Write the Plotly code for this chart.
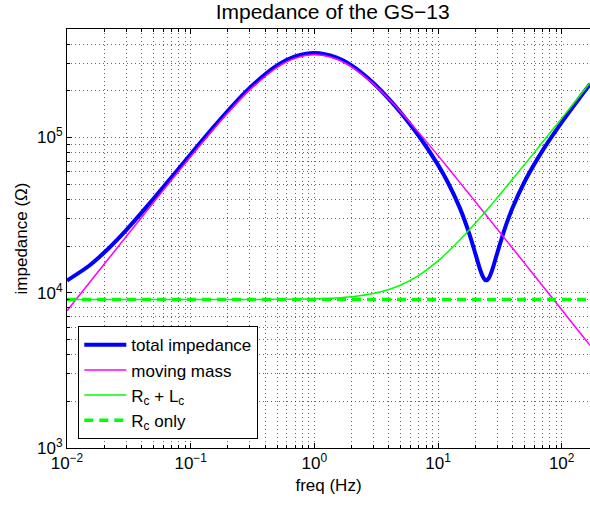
import plotly.graph_objects as go

# Frequencies (Hz) sampled along the curves
freq = [0.01, 0.015, 0.02, 0.03, 0.05, 0.07, 0.1, 0.15, 0.2, 0.3, 0.5, 0.7, 1, 1.5, 2, 3, 4, 5, 7,
        10, 12, 15, 18, 20, 22, 23, 24, 24.5, 25, 26, 27, 28, 30, 35, 40, 50, 70, 100, 140, 170]

# |Z| total impedance (ohm)
total_imp = [11994, 14875, 18153, 25263, 40244, 55441, 78067, 114537, 148751, 208564, 291089, 332841,
             350057, 328539, 291406, 224767, 177633, 144580, 102226, 66634, 51491, 35217, 23667, 17963,
             13961, 12736, 12109, 12023, 12084, 12597, 13535, 14779, 17810, 26453, 35160, 51707, 82256,
             125152, 180290, 221000]

# |Z| moving mass (ohm)
moving_mass = [7658, 11485, 15309, 22946, 38150, 53215, 75438, 111085, 144457, 202744, 283169, 323944,
               340990, 320665, 285200, 221704, 177153, 146266, 107528, 76472, 64028, 51422, 42943, 38685,
               35192, 33671, 32276, 31621, 30991, 29805, 28706, 27685, 25846, 22164, 19399, 15525, 11093,
               7766, 5548, 4569]

# |Z| coil resistance + inductance (ohm)
rc_lc = [9050, 9050, 9050, 9050, 9050, 9050, 9051, 9052, 9054, 9059, 9074, 9098, 9147, 9266, 9430, 9885,
         10489, 11218, 12962, 16052, 18303, 21849, 25522, 28017, 30538, 31807, 33080, 33718, 34357, 35638,
         36922, 38208, 40789, 47276, 53797, 66902, 93243, 132884, 185825, 225560]

# coil resistance only (ohm)
rc_freq = [0.01, 170]
rc_only = [9050, 9050]

x_tickvals = [0.01, 0.1, 1, 10, 100]
x_ticktext = ["10<sup>\u22122</sup>", "10<sup>\u22121</sup>", "10<sup>0</sup>", "10<sup>1</sup>", "10<sup>2</sup>"]
y_tickvals = [1e3, 1e4, 1e5]
y_ticktext = ["10<sup>3</sup>", "10<sup>4</sup>", "10<sup>5</sup>"]

x_minor = [m * 10 ** e for e in range(-2, 3) for m in range(2, 10)]
y_minor = [m * 10 ** e for e in range(3, 6) for m in range(2, 10)]

FONT = "Liberation Sans, Arial, Helvetica, sans-serif"
GRID = "rgba(0,0,0,0.6)"

fig = go.Figure()
fig.add_trace(go.Scatter(x=freq, y=total_imp, mode="lines", name="total impedance",
                         line=dict(color="#0000ff", width=4, shape="spline", smoothing=0.8)))
fig.add_trace(go.Scatter(x=freq, y=moving_mass, mode="lines", name="moving mass",
                         line=dict(color="#ff00ff", width=1.5, shape="spline", smoothing=0.8)))
fig.add_trace(go.Scatter(x=freq, y=rc_lc, mode="lines", name="R<sub>c</sub> + L<sub>c</sub>",
                         line=dict(color="#00ff00", width=1.5, shape="spline", smoothing=0.8)))
fig.add_trace(go.Scatter(x=rc_freq, y=rc_only, mode="lines", name="R<sub>c</sub> only",
                         line=dict(color="#00ff00", width=3.5, dash="9px,6px")))

fig.update_layout(
    width=590, height=506,
    margin=dict(l=67, r=0, t=29, b=58, autoexpand=False),
    paper_bgcolor="white", plot_bgcolor="white",
    font=dict(family=FONT, size=17, color="black"),
    title=dict(text="Impedance of the GS\u221213", x=0.508, xref="paper", xanchor="center",
               y=0.977, yref="container", yanchor="middle",
               font=dict(size=21, family=FONT, color="black")),
    legend=dict(x=0.0216, y=0.0208, xanchor="left", yanchor="bottom", bgcolor="white",
                bordercolor="black", borderwidth=1, font=dict(size=17, family=FONT),
                tracegroupgap=0, itemwidth=42),
    showlegend=True,
)

fig.update_xaxes(
    type="log", range=[-2, 2.229], tickmode="array", tickvals=x_tickvals, ticktext=x_ticktext,
    ticks="inside", ticklen=5, tickcolor="black", showline=True, linecolor="black", linewidth=1,
    mirror="ticks", showgrid=True, gridcolor=GRID, griddash="1px,3px", gridwidth=1,
    zeroline=False, tickfont=dict(size=17), automargin=False,
    minor=dict(tickmode="array", tickvals=x_minor, ticks="inside", ticklen=3, tickcolor="black",
               showgrid=True, gridcolor=GRID, griddash="1px,3px", gridwidth=1),
    title=dict(text="freq (Hz)", font=dict(size=17), standoff=6),
)
fig.update_yaxes(
    type="log", range=[3, 5.699], tickmode="array", tickvals=y_tickvals, ticktext=y_ticktext,
    ticks="inside", ticklen=5, tickcolor="black", showline=True, linecolor="black", linewidth=1,
    mirror=False, showgrid=True, gridcolor=GRID, griddash="1px,3px", gridwidth=1,
    zeroline=False, tickfont=dict(size=17), automargin=False,
    minor=dict(tickmode="array", tickvals=y_minor, ticks="inside", ticklen=3, tickcolor="black",
               showgrid=True, gridcolor=GRID, griddash="1px,3px", gridwidth=1),
    title=dict(text="impedance (\u03a9)", font=dict(size=17), standoff=5),
)

fig.write_html("out.html", config={"displayModeBar": False},
               post_script="document.body.style.margin='0px';")
